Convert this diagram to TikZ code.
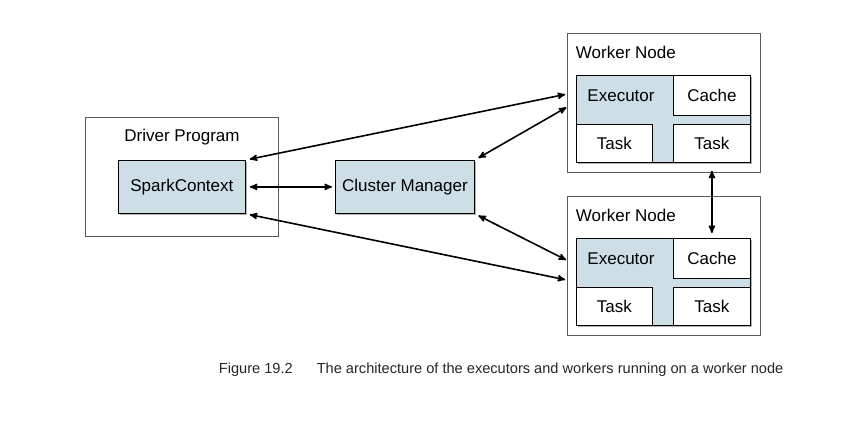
\documentclass[tikz,border=0pt]{standalone}
\usepackage{fontspec}
\setmainfont{Liberation Sans}
\usetikzlibrary{positioning,arrows,shadows}
\definecolor{sparkblue}{RGB}{205,222,230}
\definecolor{framegray}{RGB}{90,90,90}

\begin{document}
\begin{tikzpicture}[x=1pt,y=-1pt,>=stealth',line width=1.2pt,
  font=\fontsize{17}{20}\selectfont,
  outer box/.style={draw=framegray,line width=0.6pt,fill=white,inner sep=0pt,anchor=north west},
  blue box/.style={draw=black,line width=0.8pt,fill=sparkblue,inner sep=0pt,anchor=north west,
    drop shadow={shadow xshift=2pt,shadow yshift=-2pt,opacity=0.6}},
  white box/.style={draw=black,line width=0.8pt,fill=white,inner sep=0pt,anchor=north west},
  link/.style={<->,line width=1.6pt,shorten <=4pt,shorten >=11pt}]
  \useasboundingbox (0,0) rectangle (850,430);

  % driver
  \node[outer box,minimum width=193pt,minimum height=119pt] (driver) at (85,117) {};
  \node (drivertitle) at (182,137) {Driver Program};
  \node[blue box,minimum width=127pt,minimum height=53pt] (spark) at (118,160) {SparkContext};

  % cluster manager
  \node[blue box,minimum width=139pt,minimum height=53pt] (cm) at (335,160) {Cluster Manager};

  % worker nodes
  \foreach \w/\y in {1/33,2/196}{
    \node[outer box,minimum width=193pt,minimum height=139pt] (worker\w) at (567,\y) {};
    \node[anchor=west] (workertitle\w) at (572,\y+19) {Worker Node};
    \node[blue box,minimum width=174pt,minimum height=87pt] (exec\w) at (576,\y+42) {};
    \node (execlabel\w) at (621,\y+63) {Executor};
    \node[white box,minimum width=77pt,minimum height=40pt] (cache\w) at (673,\y+42) {Cache};
    \node[white box,minimum width=76pt,minimum height=38pt] (taska\w) at (576,\y+91) {Task};
    \node[white box,minimum width=77pt,minimum height=38pt] (taskb\w) at (673,\y+91) {Task};
  }

  % connections
  \draw[link] (spark.north east) -- (exec1.163);
  \draw[link] (cm.north east) -- (exec1.169);
  \draw[link,shorten >=3pt] (spark.east) -- (cm.west);
  \draw[link] (cm.south east) -- (exec2.169);
  \draw[link] (spark.south east) -- (exec2.180);
  \draw[link,shorten <=8pt,shorten >=5pt] (taskb1.south) -- (cache2.north);

  % caption
  \node[anchor=west,text=black!85,font=\fontsize{14.6}{18}\selectfont] (caption) at (215,370)
    {Figure 19.2\hspace{24pt}The architecture of the executors and workers running on a worker node};
\end{tikzpicture}
\end{document}
